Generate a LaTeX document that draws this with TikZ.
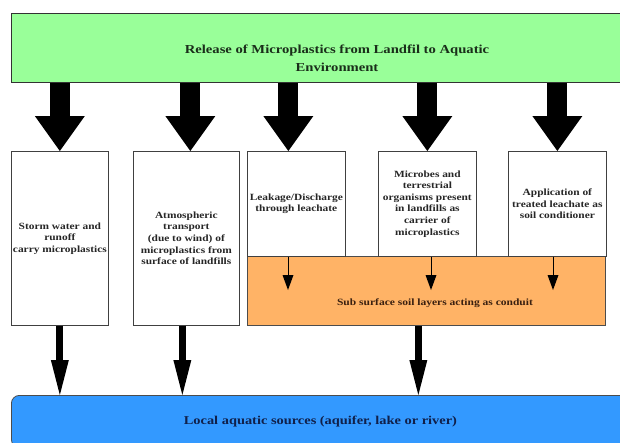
\documentclass[tikz,border=0pt]{standalone}
\usepackage{fontspec}
\setmainfont{Liberation Serif}
\newfontfamily\widefont[FakeStretch=1.2]{Liberation Serif}
\usetikzlibrary{arrows.meta}
\definecolor{gfill}{HTML}{99FF99}
\definecolor{ofill}{HTML}{FFB366}
\definecolor{bfill}{HTML}{3399FF}
\definecolor{tgreen}{HTML}{1A2E1A}
\definecolor{tbrown}{HTML}{3A2010}
\definecolor{tnavy}{HTML}{10204A}
\begin{document}
\begin{tikzpicture}[x=1pt,y=-1pt,
  box/.style={draw=black!75, line width=0.7pt, fill=white, inner sep=0pt, align=center,
    font=\widefont\bfseries\fontsize{9.5}{11.6}\selectfont, text=black!85, anchor=north west},
  bigarrow/.style={line width=20pt, -{Triangle[length=35pt,width=50pt,line width=0pt]}},
  midarrow/.style={line width=7pt, -{Triangle[length=35pt,width=18pt,line width=0pt]}},
  smallarrow/.style={line width=1pt, -{Triangle[length=15pt,width=11pt,line width=0pt]}}]
\useasboundingbox (0,0) rectangle (620,442);
% title
\node[draw=black!80, line width=0.8pt, fill=gfill, minimum width=653pt, minimum height=69pt,
  anchor=north west] (title) at (11,13) {};
\node[align=center, text=tgreen, inner sep=0pt,
  font=\widefont\bfseries\fontsize{12.2}{18}\selectfont] (titletext) at (337,58)
  {Release of Microplastics from Landfil to Aquatic\\Environment};
% orange conduit
\node[draw=black!70, line width=0.7pt, fill=ofill, minimum width=358pt, minimum height=69pt,
  anchor=north west] (soil) at (247,256) {};
\node[text=tbrown, font=\widefont\bfseries\fontsize{9.6}{11}\selectfont] (soiltext) at (435,303)
  {Sub surface soil layers acting as conduit};
% boxes
\node[box, minimum width=97pt, minimum height=174pt] (b1) at (11,151)
  {Storm water and\\runoff\\carry microplastics};
\node[box, minimum width=106pt, minimum height=174pt] (b2) at (133,151)
  {Atmospheric\\transport\\(due to wind) of\\microplastics from\\surface of landfills};
\node[box, minimum width=98pt, minimum height=105pt] (b3) at (247,151)
  {Leakage/Discharge\\through leachate};
\node[box, minimum width=98pt, minimum height=105pt] (b4) at (378,151)
  {Microbes and\\terrestrial\\organisms present\\in landfills as\\carrier of\\microplastics};
\node[box, minimum width=98pt, minimum height=105pt] (b5) at (508,151)
  {Application of\\treated leachate as\\soil conditioner};
% bottom
\node[draw=black!70, line width=0.8pt, fill=bfill, rounded corners=8pt, minimum width=618pt,
  minimum height=52pt, anchor=north west, text=tnavy,
  font=\widefont\bfseries\fontsize{12}{14}\selectfont] (water) at (11,395)
  {Local aquatic sources (aquifer, lake or river)};
% big arrows
\draw[bigarrow] (b1.north |- title.south) -- (b1.north);
\draw[bigarrow] ([xshift=4pt]b2.north |- title.south) -- ([xshift=4pt]b2.north);
\draw[bigarrow] ([xshift=-8pt]b3.north |- title.south) -- ([xshift=-8pt]b3.north);
\draw[bigarrow] (b4.north |- title.south) -- (b4.north);
\draw[bigarrow] (b5.north |- title.south) -- (b5.north);
% small arrows into soil
\coordinate (s3) at (288,290);
\coordinate (s4) at (431,290);
\coordinate (s5) at (553,290);
\draw[smallarrow] (s3 |- b3.south) -- (s3);
\draw[smallarrow] (s4 |- b4.south) -- (s4);
\draw[smallarrow] (s5 |- b5.south) -- (s5);
% arrows to water
\draw[midarrow] (b1.south) -- (b1.south |- water.north);
\draw[midarrow] ([xshift=-4pt]b2.south) -- ([xshift=-4pt]b2.south |- water.north);
\draw[midarrow] ([xshift=-8pt]soil.south) -- ([xshift=-8pt]soil.south |- water.north);
\end{tikzpicture}
\end{document}
